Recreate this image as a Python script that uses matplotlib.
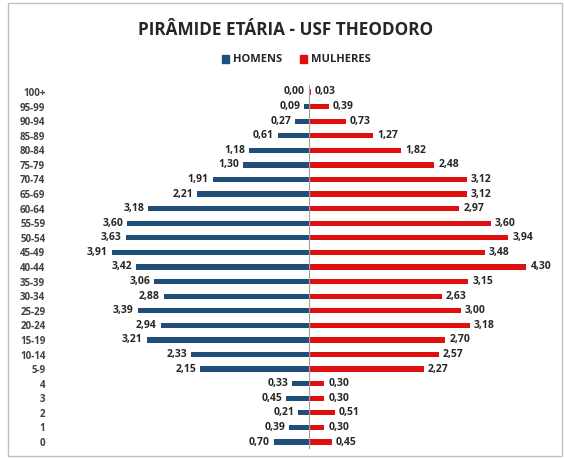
import matplotlib.pyplot as plt
from matplotlib.patches import Patch, Rectangle

# faixas etarias (de cima para baixo)
faixas = ["100+", "95-99", "90-94", "85-89", "80-84", "75-79", "70-74", "65-69",
          "60-64", "55-59", "50-54", "45-49", "40-44", "35-39", "30-34", "25-29",
          "20-24", "15-19", "10-14", "5-9", "4", "3", "2", "1", "0"]
homens = [0.00, 0.09, 0.27, 0.61, 1.18, 1.30, 1.91, 2.21, 3.18, 3.60, 3.63, 3.91,
          3.42, 3.06, 2.88, 3.39, 2.94, 3.21, 2.33, 2.15, 0.33, 0.45, 0.21, 0.39, 0.70]
mulheres = [0.03, 0.39, 0.73, 1.27, 1.82, 2.48, 3.12, 3.12, 2.97, 3.60, 3.94, 3.48,
            4.30, 3.15, 2.63, 3.00, 3.18, 2.70, 2.57, 2.27, 0.30, 0.30, 0.51, 0.30, 0.45]

azul = "#1f4e79"
vermelho = "#e01010"
texto = "#262626"

plt.rcParams["font.family"] = ["Open Sans", "DejaVu Sans"]

fig = plt.figure(figsize=(5.64, 4.59), dpi=100)
ax = fig.add_axes([55 / 564, 9.7 / 459, 500 / 564, 364.6 / 459])

y = list(range(len(faixas)))
ax.barh(y, [-h for h in homens], height=0.36, color=azul)
ax.barh(y, mulheres, height=0.36, color=vermelho)

for i in y:
    ax.annotate(f"{homens[i]:.2f}".replace(".", ","), (-homens[i], i),
                xytext=(-3, 0), textcoords="offset points", ha="right", va="center",
                fontsize=7.5, fontweight="bold", color=texto)
    ax.annotate(f"{mulheres[i]:.2f}".replace(".", ","), (mulheres[i], i),
                xytext=(3, 0), textcoords="offset points", ha="left", va="center",
                fontsize=7.5, fontweight="bold", color=texto)

ax.axvline(0, color="#a0a0a0", lw=0.8)
ax.set_xlim(-5.03, 4.87)
ax.set_ylim(len(faixas) - 0.5, -0.5)
ax.set_yticks(y)
ax.set_yticklabels(faixas, fontsize=7, fontweight="bold", color="#404040")
ax.tick_params(axis="y", length=0, pad=7)
ax.set_xticks([])
for s in ax.spines.values():
    s.set_visible(False)

fig.text(0.507, 1 - 30 / 459, "PIRÂMIDE ETÁRIA - USF THEODORO", ha="center", va="center",
         fontsize=12.3, fontweight="bold", color=texto)
fig.legend(handles=[Patch(color=azul, label="HOMENS"), Patch(color=vermelho, label="MULHERES")],
           loc="center", bbox_to_anchor=(0.525, 1 - 60 / 459), ncol=2, frameon=False,
           prop={"size": 8, "weight": "bold"}, handlelength=0.7, handleheight=0.7,
           handletextpad=0.3, columnspacing=1.6, labelcolor=texto)

fig.patches.append(Rectangle((8 / 564, 3 / 459), 554 / 564, 453 / 459, transform=fig.transFigure,
                             fill=False, edgecolor="#c0c0c0", lw=1))

fig.savefig("out.png", dpi=100)
